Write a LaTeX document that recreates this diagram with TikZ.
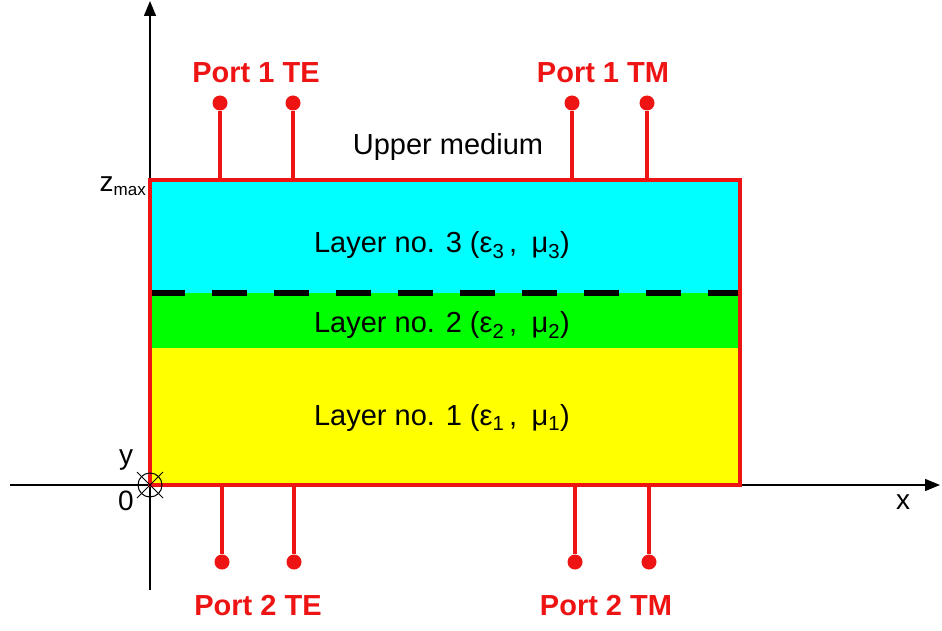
\documentclass[tikz,border=0pt]{standalone}
\usepackage{fontspec}
\setmainfont{Liberation Sans}
\usetikzlibrary{arrows.meta}

\definecolor{layercyan}{RGB}{0,255,255}
\definecolor{layergreen}{RGB}{0,255,0}
\definecolor{layeryellow}{RGB}{255,255,0}
\definecolor{portred}{RGB}{238,20,20}

\begin{document}
\begin{tikzpicture}[x=1pt, y=-1pt,
    axis/.style={-{Triangle[length=15pt, width=12pt]}, line width=1.4pt},
    port/.style={draw=portred, line width=3.5pt},
    dot/.style={circle, fill=portred, inner sep=0pt, minimum size=15pt},
    portlabel/.style={text=portred, font=\fontsize{29}{33}\selectfont\bfseries},
    layertext/.style={font=\fontsize{29}{33}\selectfont},
    axislabel/.style={font=\fontsize{28}{32}\selectfont}
]
\useasboundingbox (0,0) rectangle (942,631);

% Axes
\coordinate (xstart) at (10,485);
\coordinate (xend) at (940,485);
\coordinate (zstart) at (150,590);
\coordinate (zend) at (150,1);
\draw[axis] (xstart) -- (xend);
\draw[axis] (zstart) -- (zend);

% Layers
\fill[layeryellow] (150,348) rectangle (740,485);
\fill[layergreen] (150,293) rectangle (740,348);
\fill[layercyan] (150,180) rectangle (740,293);
\draw[line width=6pt, dash pattern=on 35pt off 27pt] (150,293) -- (740,293);
\draw[portred, line width=4pt] (150,180) rectangle (740,485);

\node[layertext] (l3) at (442,245) {Layer no. 3 (ε\textsubscript{3}\,,\enspace μ\textsubscript{3})};
\node[layertext] (l2) at (442,325) {Layer no. 2 (ε\textsubscript{2}\,,\enspace μ\textsubscript{2})};
\node[layertext] (l1) at (442,418) {Layer no. 1 (ε\textsubscript{1}\,,\enspace μ\textsubscript{1})};
\node[layertext] (upper) at (448,147) {Upper medium};

% Origin and y axis (into the page)
\draw[line width=1pt] (150,485) circle (12);
\draw[line width=1pt] (137,472) -- (163,498) (137,498) -- (163,472);
\node[axislabel] (ylab) at (126,460) {y};
\node[axislabel] (orig) at (126,501) {0};
\node[axislabel] (xlab) at (903,502) {x};
\node[axislabel, anchor=east, inner sep=1pt] (zmax) at (147,186) {z\raisebox{-0.3ex}{\fontsize{17}{19}\selectfont max}};

% Ports at the top
\node[dot] (p1a) at (220,103) {};
\node[dot] (p1b) at (293,103) {};
\node[dot] (p1c) at (572,103) {};
\node[dot] (p1d) at (647,103) {};
\coordinate (t1a) at (220,180);
\coordinate (t1b) at (293,180);
\coordinate (t1c) at (572,180);
\coordinate (t1d) at (647,180);
\draw[port] (p1a) -- (t1a);
\draw[port] (p1b) -- (t1b);
\draw[port] (p1c) -- (t1c);
\draw[port] (p1d) -- (t1d);
\node[portlabel] (te1) at (256,73) {Port 1 TE};
\node[portlabel] (tm1) at (603,73) {Port 1 TM};

% Ports at the bottom
\node[dot] (p2a) at (222,562) {};
\node[dot] (p2b) at (294,562) {};
\node[dot] (p2c) at (575,562) {};
\node[dot] (p2d) at (649,562) {};
\coordinate (b2a) at (222,485);
\coordinate (b2b) at (294,485);
\coordinate (b2c) at (575,485);
\coordinate (b2d) at (649,485);
\draw[port] (p2a) -- (b2a);
\draw[port] (p2b) -- (b2b);
\draw[port] (p2c) -- (b2c);
\draw[port] (p2d) -- (b2d);
\node[portlabel] (te2) at (258,606) {Port 2 TE};
\node[portlabel] (tm2) at (606,606) {Port 2 TM};

\end{tikzpicture}
\end{document}
